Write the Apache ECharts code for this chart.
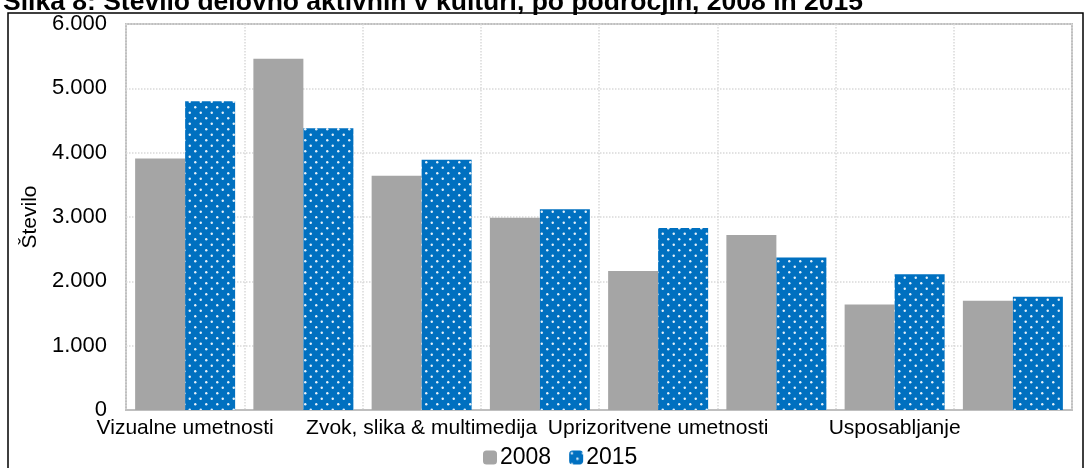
<!DOCTYPE html>
<html>
<head>
<meta charset="utf-8">
<script src="https://cdn.jsdelivr.net/npm/echarts@6/dist/echarts.min.js"></script>
<style>
  html, body { margin: 0; padding: 0; background: #fff; }
  #chart { width: 1086px; height: 468px; }
</style>
</head>
<body>
<div id="chart"></div>
<script>
// podatki
const categories = ['Vizualne umetnosti', 'Knjige in tisk', 'Zvok, slika & multimedija', 'Arhitektura',
    'Uprizoritvene umetnosti', 'Oglaševanje', 'Usposabljanje', 'Kulturna dediščina'];
const values2008 = [3910, 5460, 3640, 2990, 2160, 2720, 1640, 1700];
const values2015 = [4800, 4380, 3890, 3120, 2830, 2370, 2110, 1760];
const yTicks = [0, 1000, 2000, 3000, 4000, 5000, 6000];

// vzorec s pikami za 2015
function dotPattern() {
    const c = document.createElement('canvas');
    c.width = 11;
    c.height = 11;
    const ctx = c.getContext('2d');
    ctx.fillStyle = '#0070C0';
    ctx.fillRect(0, 0, 11, 11);
    ctx.fillStyle = 'rgba(255,255,255,0.9)';
    [[2.75, 2.75], [8.25, 8.25]].forEach(([x, y]) => {
        ctx.beginPath();
        ctx.arc(x, y, 1.2, 0, Math.PI * 2);
        ctx.fill();
    });
    return c;
}

const fmt = (v) => String(v).replace(/\B(?=(\d{3})+(?!\d))/g, '.');
const font = 'Liberation Sans, Arial, sans-serif';

const chart = echarts.init(document.getElementById('chart'));
chart.setOption({
    animation: false,
    title: {
        text: 'Slika 8: Število delovno aktivnih v kulturi, po področjih, 2008 in 2015',
        left: -2,
        top: -16,
        textStyle: { fontFamily: font, fontSize: 26.5, fontWeight: 'bold', color: '#000' },
    },
    graphic: [{
        type: 'rect',
        shape: { x: 8, y: 13, width: 1075, height: 480 },
        style: { fill: null, stroke: '#000', lineWidth: 1.5 },
        silent: true,
    }],
    legend: {
        bottom: -6,
        left: 478,
        itemWidth: 14,
        itemHeight: 14,
        itemGap: 18,
        textStyle: { fontFamily: font, fontSize: 23, color: '#000', padding: [0, 0, 0, -2] },
        data: ['2008', '2015'],
    },
    grid: {
        left: 126,
        right: 14,
        top: 24,
        bottom: 58,
        show: true,
        borderColor: '#BFBFBF',
        borderWidth: 2,
    },
    xAxis: {
        type: 'category',
        data: categories,
        axisLine: { lineStyle: { color: '#BFBFBF', width: 2 } },
        axisTick: { show: false, interval: 0 },
        axisLabel: { interval: 1, margin: 8, fontFamily: font, fontSize: 21, color: '#000' },
        splitLine: { show: true, interval: 0, lineStyle: { color: '#D9D9D9', type: 'dotted', width: 1.5 } },
    },
    yAxis: {
        type: 'value',
        min: yTicks[0],
        max: yTicks[yTicks.length - 1],
        interval: 1000,
        name: 'Število',
        nameLocation: 'middle',
        nameGap: 76,
        nameTextStyle: { fontFamily: font, fontSize: 21, color: '#000' },
        axisLine: { show: false },
        axisTick: { show: false },
        axisLabel: { margin: 19, fontFamily: font, fontSize: 22, color: '#000', formatter: fmt },
        splitLine: { lineStyle: { color: '#D9D9D9', type: 'dotted', width: 1.5 } },
    },
    series: [
        {
            name: '2008',
            type: 'bar',
            data: values2008,
            barWidth: 50,
            barGap: '0%',
            itemStyle: { color: '#A5A5A5' },
        },
        {
            name: '2015',
            type: 'bar',
            data: values2015,
            barWidth: 50,
            barGap: '0%',
            itemStyle: { color: { image: dotPattern(), repeat: 'repeat' } },
        },
    ],
});
</script>
</body>
</html>
